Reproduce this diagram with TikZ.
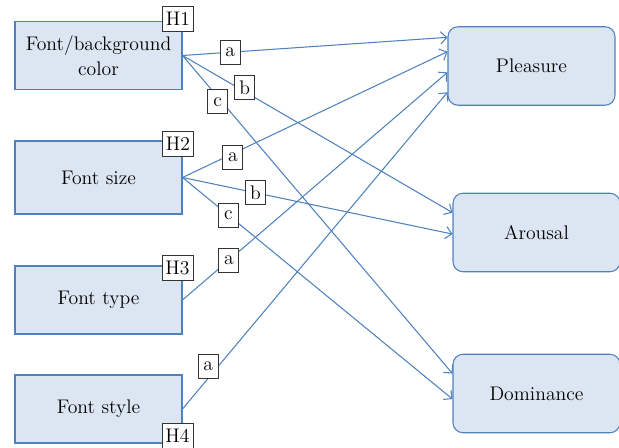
\documentclass[tikz,border=0pt]{standalone}
\usetikzlibrary{calc,positioning,arrows.meta}
\definecolor{boxfill}{HTML}{DCE6F2}
\definecolor{boxline}{HTML}{4F81BD}

\begin{document}
\begin{tikzpicture}
      [>={Straight Barb[length=3.5pt,width=7pt]},
        font=\rmfamily\fontsize{11.2}{14.5}\selectfont,
        line/.style={draw=boxline, line width=0.6pt, ->},
        factor/.style={
          rectangle,
          draw=boxline, fill=boxfill, line width=0.6pt,
          align=center,
          minimum width=3.34cm,
          minimum height=1.36cm,
          inner sep=2pt,
        },
        emotion/.style={factor, rounded corners=0.2cm, minimum height=1.57cm},
        hyp/.style={rectangle, draw=black!80, fill=white, line width=0.5pt,
          minimum width=0.62cm, minimum height=0.5cm, inner sep=1pt},
        tag/.style={rectangle, draw=black!80, fill=white, line width=0.5pt,
          minimum width=0.4cm, minimum height=0.48cm, inner sep=1pt}]
      \useasboundingbox (0,0) rectangle (12.38,8.96);

      \node[factor] (color) at (1.97,7.85) {Font/background\\color};
      \node[factor, minimum height=1.46cm] (size) at (1.97,5.41) {Font size};
      \node[factor] (type) at (1.97,2.96) {Font type};
      \node[factor] (style) at (1.97,0.78) {Font style};

      \node[emotion] (pleasure) at (10.63,7.64) {Pleasure};
      \node[emotion] (arousal) at (10.73,4.31) {Arousal};
      \node[emotion] (dominance) at (10.73,1.09) {Dominance};

      \node[hyp] (h1) at ($(color.north east)+(-0.09,0.05)$) {H1};
      \node[hyp] (h2) at ($(size.north east)+(-0.09,-0.07)$) {H2};
      \node[hyp] (h3) at ($(type.north east)+(-0.1,-0.05)$) {H3};
      \node[hyp] (h4) at ($(style.south east)+(-0.1,0.16)$) {H4};

      % hypothesis paths
      \draw[line] (color.east) -- ($(pleasure.north west)!0.14!(pleasure.south west)$) node[tag, pos=0.18] (ca) {a};
      \draw[line] (color.east) -- ($(arousal.north west)!0.25!(arousal.south west)$) node[tag, pos=0.23, yshift=0.08cm] (cb) {b};
      \draw[line] (color.east) -- ($(dominance.north west)!0.25!(dominance.south west)$) node[tag, pos=0.13, yshift=-0.1cm] (cc) {c};

      \draw[line] (size.east) -- ($(pleasure.north west)!0.32!(pleasure.south west)$) node[tag, pos=0.19, yshift=-0.08cm] (sa) {a};
      \draw[line] (size.east) -- ($(arousal.north west)!0.52!(arousal.south west)$) node[tag, pos=0.27] (sb) {b};
      \draw[line] (size.east) -- ($(dominance.north west)!0.57!(dominance.south west)$) node[tag, pos=0.17] (sc) {c};

      \draw[line] (type.east) -- ($(pleasure.north west)!0.58!(pleasure.south west)$) node[tag, pos=0.175] (ta) {a};
      \draw[line] (style.east) -- ($(pleasure.north west)!0.83!(pleasure.south west)$) node[tag, pos=0.12, xshift=-0.12cm, yshift=0.1cm] (sta) {a};
    \end{tikzpicture}
\end{document}
